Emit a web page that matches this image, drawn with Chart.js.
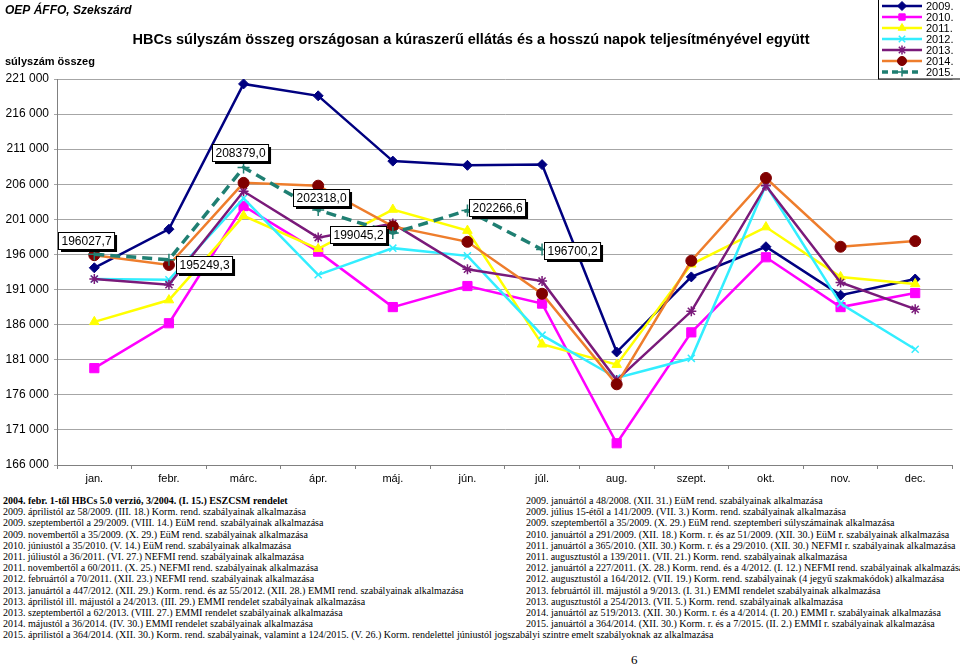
<!DOCTYPE html>
<html>
<head>
<meta charset="utf-8">
<script src="https://cdn.jsdelivr.net/npm/chart.js@4"></script>
<style>
  body { margin: 0; background: #fff; width: 960px; height: 667px; overflow: hidden; position: relative; }
  #wrap { position: absolute; left: 0; top: 0; width: 960px; height: 490px; }
  .notes { position: absolute; font-family: "Liberation Serif", "Times New Roman", serif; font-size: 10px; line-height: 11.2px; white-space: nowrap; color: #000; }
  #pageNo { position: absolute; left: 631px; top: 652px; font-family: "Liberation Serif", serif; font-size: 13px; }
</style>
</head>
<body>
<div id="wrap"><canvas id="chart"></canvas></div>
<div class="notes" id="notesLeft" style="left:3px; top:495px;"></div>
<div class="notes" id="notesRight" style="left:526px; top:495px;"></div>
<div id="pageNo">6</div>
<script>
// chart data
const months = ['jan.', 'febr.', 'márc.', 'ápr.', 'máj.', 'jún.', 'júl.', 'aug.', 'szept.', 'okt.', 'nov.', 'dec.'];
const years = ['2009.', '2010.', '2011.', '2012.', '2013.', '2014.', '2015.'];

const v2009 = [194100, 199600, 220300, 218600, 209300, 208700, 208800, 182100, 192800, 197100, 190200, 192500];
const v2010 = [179800, 186200, 202900, 196400, 188500, 191500, 189000, 169100, 184900, 195600, 188500, 190500];
const v2011 = [186400, 189500, 201500, 196800, 202400, 199400, 183200, 180300, 194600, 199900, 192800, 191800];
const v2012 = [192500, 192400, 204000, 193100, 196900, 195800, 184500, 178400, 181200, 205900, 189000, 182500];
const v2013 = [192500, 191700, 205000, 198400, 200400, 193900, 192200, 178100, 187900, 205800, 192000, 188200];
const v2014 = [195900, 194500, 206200, 205800, 200000, 197800, 190400, 177500, 195100, 206900, 197100, 197900];
const v2015 = [196027.7, 195249.3, 208379.0, 202318.0, 199045.2, 202266.6, 196700.2, null, null, null, null, null];

const yMin = 166000;
const yMax = 221000;
const yStep = 5000;

const noteLinesLeft = [
    '<b>2004. febr. 1-től HBCs 5.0 verzió, 3/2004. (I. 15.) ESZCSM rendelet</b>',
    '2009. áprilistól az 58/2009. (III. 18.) Korm. rend. szabályainak alkalmazása',
    '2009. szeptembertől a 29/2009. (VIII. 14.) EüM rend. szabályainak alkalmazása',
    '2009. novembertől a 35/2009. (X. 29.) EüM rend. szabályainak alkalmazása',
    '2010. júniustól a 35/2010. (V. 14.) EüM rend. szabályainak alkalmazása',
    '2011. júliustól a 36/2011. (VI. 27.) NEFMI rend. szabályainak alkalmazása',
    '2011. novembertől a 60/2011. (X. 25.) NEFMI rend. szabályainak alkalmazása',
    '2012. februártól a 70/2011. (XII. 23.) NEFMI rend. szabályainak alkalmazása',
    '2013. januártól a 447/2012. (XII. 29.) Korm. rend. és az 55/2012. (XII. 28.) EMMI rend. szabályainak alkalmazása',
    '2013. áprilistól ill. májustól a 24/2013. (III. 29.) EMMI rendelet szabályainak alkalmazása',
    '2013. szeptembertől a 62/2013. (VIII. 27.) EMMI rendelet szabályainak alkalmazása',
    '2014. májustól a 36/2014. (IV. 30.) EMMI rendelet szabályainak alkalmazása',
    '2015. áprilistól a 364/2014. (XII. 30.) Korm. rend. szabályainak, valamint a 124/2015. (V. 26.) Korm. rendelettel júniustól jogszabályi szintre emelt szabályoknak az alkalmazása'
];
const noteLinesRight = [
    '2009. januártól a 48/2008. (XII. 31.) EüM rend. szabályainak alkalmazása',
    '2009. július 15-étől a 141/2009. (VII. 3.) Korm. rend. szabályainak alkalmazása',
    '2009. szeptembertől a 35/2009. (X. 29.) EüM rend. szeptemberi súlyszámainak alkalmazása',
    '2010. januártól a 291/2009. (XII. 18.) Korm. r. és az 51/2009. (XII. 30.) EüM r. szabályainak alkalmazása',
    '2011. januártól a 365/2010. (XII. 30.) Korm. r. és a 29/2010. (XII. 30.) NEFMI r. szabályainak alkalmazása',
    '2011. augusztustól a 139/2011. (VII. 21.) Korm. rend. szabályainak alkalmazása',
    '2012. januártól a 227/2011. (X. 28.) Korm. rend. és a 4/2012. (I. 12.) NEFMI rend. szabályainak alkalmazása',
    '2012. augusztustól a 164/2012. (VII. 19.) Korm. rend. szabályainak (4 jegyű szakmakódok) alkalmazása',
    '2013. februártól ill. májustól a 9/2013. (I. 31.) EMMI rendelet szabályainak alkalmazása',
    '2013. augusztustól a 254/2013. (VII. 5.) Korm. rend. szabályainak alkalmazása',
    '2014. januártól az 519/2013. (XII. 30.) Korm. r. és a 4/2014. (I. 20.) EMMI r. szabályainak alkalmazása',
    '2015. januártól a 364/2014. (XII. 30.) Korm. r. és a 7/2015. (II. 2.) EMMI r. szabályainak alkalmazása'
];

document.getElementById('notesLeft').innerHTML = noteLinesLeft.join('<br>');
document.getElementById('notesRight').innerHTML = noteLinesRight.join('<br>');

const FONT = '"Liberation Sans", Arial, sans-serif';

function fmtThousands(v) {
    return String(Math.round(v)).replace(/\B(?=(\d{3})+(?!\d))/g, ' ');
}

// series styles
const seriesValues = [v2009, v2010, v2011, v2012, v2013, v2014, v2015];
const lineColors = ['#000080', '#ff00ff', '#ffff00', '#33eeff', '#7a1a7a', '#ee7d2c', '#1f7f72'];
const markerFill = ['#000080', '#ff00ff', '#ffff00', '#33eeff', '#7a1a7a', '#800000', '#1f7f72'];
const markerStyles = ['rectRot', 'rect', 'triangle', 'crossRot', 'star', 'circle', 'cross'];
const markerSizes = [5, 6.5, 5.5, 5, 5, 5.5, 6];

const datasets = seriesValues.map((vals, i) => ({
    label: years[i],
    data: vals,
    borderColor: lineColors[i],
    backgroundColor: markerFill[i],
    borderWidth: i === 6 ? 3.5 : 2.5,
    borderDash: i === 6 ? [10, 6] : [],
    pointStyle: markerStyles[i],
    pointRadius: markerSizes[i],
    pointBackgroundColor: markerFill[i],
    pointBorderColor: markerFill[i],
    pointBorderWidth: (i === 3 || i === 4 || i === 6) ? 1.5 : 1,
    tension: 0,
    spanGaps: false,
    order: years.length - i
}));

// label placement for the 2015 values (box centre relative to the point)
const labelShift = [[-8, -14], [35, 5], [-4, -15], [3, -13], [-35, 1], [30, -3], [30, 1]];

const decorPlugin = {
    id: 'decor',
    afterDraw(chart) {
        const ctx = chart.ctx;
        ctx.save();

        // titles
        ctx.fillStyle = '#000';
        ctx.textBaseline = 'middle';
        ctx.textAlign = 'left';
        ctx.font = 'italic bold 12px ' + FONT;
        ctx.fillText('OEP ÁFFO, Szekszárd', 5, 11);
        ctx.font = 'bold 11px ' + FONT;
        ctx.fillText('súlyszám összeg', 5, 62);
        ctx.textAlign = 'center';
        ctx.font = 'bold 14.5px ' + FONT;
        ctx.fillText('HBCs súlyszám összeg országosan a kúraszerű ellátás és a hosszú napok teljesítményével együtt', 471, 40);

        // 2015 value labels
        const meta = chart.getDatasetMeta(6);
        ctx.font = '12px ' + FONT;
        meta.data.forEach((pt, k) => {
            const v = v2015[k];
            if (v === null || v === undefined) return;
            const txt = v.toFixed(1).replace('.', ',');
            const w = ctx.measureText(txt).width + 6;
            const h = 17;
            const cx = pt.x + labelShift[k][0];
            const cy = pt.y + labelShift[k][1];
            const bx = Math.round(cx - w / 2) + 0.5;
            const by = Math.round(cy - h / 2) + 0.5;
            ctx.fillStyle = '#000';
            ctx.fillRect(bx + 2.5, by + 2.5, w, h);
            ctx.fillStyle = '#fff';
            ctx.fillRect(bx, by, w, h);
            ctx.strokeStyle = '#000';
            ctx.lineWidth = 1;
            ctx.strokeRect(bx, by, w, h);
            ctx.fillStyle = '#000';
            ctx.textAlign = 'center';
            ctx.fillText(txt, bx + w / 2, by + h / 2 + 1);
        });

        // legend
        ctx.strokeStyle = '#000';
        ctx.lineWidth = 1;
        ctx.fillStyle = '#fff';
        ctx.fillRect(878.5, -1, 83, 80);
        ctx.strokeRect(878.5, -1, 83, 80);
        ctx.font = '11px ' + FONT;
        ctx.textAlign = 'left';
        chart.data.datasets.forEach((ds, i) => {
            const y = 6 + i * 11;
            ctx.save();
            ctx.strokeStyle = ds.borderColor;
            ctx.lineWidth = ds.borderWidth;
            ctx.setLineDash(ds.borderDash.length ? [6, 4] : []);
            ctx.beginPath();
            ctx.moveTo(882, y);
            ctx.lineTo(922, y);
            ctx.stroke();
            ctx.restore();
            ctx.save();
            ctx.fillStyle = ds.pointBackgroundColor;
            ctx.strokeStyle = ds.pointBorderColor;
            ctx.lineWidth = ds.pointBorderWidth;
            Chart.helpers.drawPoint(ctx, { pointStyle: ds.pointStyle, radius: Math.min(ds.pointRadius, 4.5), borderWidth: ds.pointBorderWidth }, 902, y);
            ctx.restore();
            ctx.fillStyle = '#000';
            ctx.fillText(ds.label, 926, y + 1);
        });

        ctx.restore();
    }
};

const ctx = document.getElementById('chart').getContext('2d');
new Chart(ctx, {
    type: 'line',
    data: { labels: months, datasets: datasets },
    options: {
        responsive: true,
        maintainAspectRatio: false,
        animation: false,
        layout: { padding: { top: 79, right: 0, left: 0, bottom: 0 } },
        plugins: {
            legend: { display: false },
            title: { display: false },
            tooltip: { enabled: false }
        },
        scales: {
            x: {
                offset: true,
                grid: { offset: true, drawOnChartArea: false, drawTicks: true, tickLength: 4, color: '#808080' },
                border: { color: '#808080', width: 1 },
                ticks: { color: '#000', font: { family: FONT, size: 11 }, padding: 3, maxRotation: 0, autoSkip: false },
                afterFit(s) { s.height = 25; }
            },
            y: {
                min: yMin,
                max: yMax,
                grid: { color: '#a6a6a6', lineWidth: 1, drawTicks: true, tickLength: 3 },
                border: { color: '#808080', width: 1 },
                ticks: { stepSize: yStep, color: '#000', font: { family: FONT, size: 12 }, padding: 5, callback: v => fmtThousands(v) },
                afterFit(s) { s.width = 57; }
            }
        }
    },
    plugins: [decorPlugin]
});
</script>
</body>
</html>
